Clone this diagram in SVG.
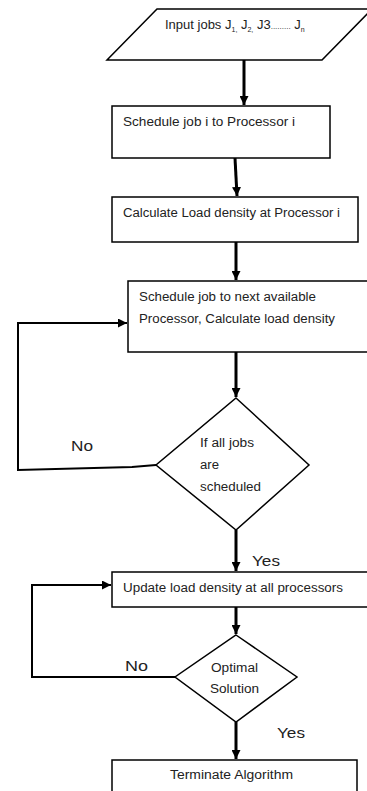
<svg xmlns="http://www.w3.org/2000/svg" width="367" height="791" viewBox="0 0 367 791">
<style>
.shape{fill:#fff;stroke:#000;stroke-width:1.5}
.t{font-family:"Liberation Sans",Arial,sans-serif;font-size:12px;fill:#222}
.lbl{font-family:"Liberation Sans",Arial,sans-serif;font-size:15px;fill:#222}
.c{fill:none;stroke:#000;stroke-width:3}
.l{fill:none;stroke:#000;stroke-width:2}
</style>
<defs>
<marker id="ah" viewBox="0 0 10 10" refX="10" refY="5" markerWidth="3" markerHeight="3" orient="auto" markerUnits="strokeWidth">
<path d="M0,0 L10,5 L0,10 Z" fill="#000"/>
</marker>
<marker id="ah2" viewBox="0 0 10 10" refX="10" refY="5" markerWidth="4.5" markerHeight="4.5" orient="auto" markerUnits="strokeWidth">
<path d="M0,0 L10,5 L0,10 Z" fill="#000"/>
</marker>
</defs>
<rect width="367" height="791" fill="#fff"/>
<g id="input">
<polygon class="shape" points="157,9 372,9 322,60 107,60"/>
<text class="t" x="165" y="29" style="font-size:13px">Input jobs J<tspan style="font-size:7px" dy="3">1,</tspan><tspan dy="-3"> J</tspan><tspan style="font-size:7px" dy="3">2,</tspan><tspan dy="-3"> J3</tspan><tspan style="font-size:8px">.........</tspan><tspan> J</tspan><tspan style="font-size:7px" dy="3">n</tspan></text>
</g>
<g id="schedule1">
<rect class="shape" x="112" y="106" width="218" height="52"/>
<text class="t" x="123" y="126" textLength="172" lengthAdjust="spacingAndGlyphs">Schedule job i to Processor i</text>
</g>
<g id="calc">
<rect class="shape" x="112" y="197" width="246" height="45"/>
<text class="t" x="123" y="217" textLength="217" lengthAdjust="spacingAndGlyphs">Calculate Load density at Processor i</text>
</g>
<g id="schedule2">
<rect class="shape" x="128" y="281" width="241" height="71"/>
<text class="t" x="139" y="301" textLength="177" lengthAdjust="spacingAndGlyphs">Schedule job to next available</text>
<text class="t" x="139" y="323" textLength="196" lengthAdjust="spacingAndGlyphs">Processor, Calculate load density</text>
</g>
<g id="decision1">
<polygon class="shape" points="236,398 309,465 236,530 156,465" stroke-width="1"/>
<text class="t" x="200" y="447" textLength="54" lengthAdjust="spacingAndGlyphs">If all jobs</text>
<text class="t" x="200" y="469" textLength="19" lengthAdjust="spacingAndGlyphs">are</text>
<text class="t" x="200" y="491" textLength="61" lengthAdjust="spacingAndGlyphs">scheduled</text>
</g>
<g id="update">
<rect class="shape" x="112" y="572" width="257" height="35"/>
<text class="t" x="123" y="592" textLength="220" lengthAdjust="spacingAndGlyphs">Update load density at all processors</text>
</g>
<g id="decision2">
<polygon class="shape" points="236,635 297,677 236,722 175,677" stroke-width="1"/>
<text class="t" x="211" y="672" textLength="47" lengthAdjust="spacingAndGlyphs">Optimal</text>
<text class="t" x="210" y="693" textLength="49" lengthAdjust="spacingAndGlyphs">Solution</text>
</g>
<g id="terminate">
<rect class="shape" x="112" y="760" width="245" height="40"/>
<text class="t" x="170" y="779" textLength="123" lengthAdjust="spacingAndGlyphs">Terminate Algorithm</text>
</g>
<g id="connectors">
<path class="c" d="M244,60 V105" marker-end="url(#ah)"/>
<path class="c" d="M235,158 L237,196" marker-end="url(#ah)"/>
<path class="c" d="M236,242 V280" marker-end="url(#ah)"/>
<path class="c" d="M236,352 V397" marker-end="url(#ah)"/>
<path class="l" d="M156,465 L132,467 L18,470 V323 H127" marker-end="url(#ah2)"/>
<path class="c" d="M236,530 V571" marker-end="url(#ah)"/>
<path class="c" d="M236,607 V634" marker-end="url(#ah)"/>
<path class="l" d="M175,677 H32 V585 H111" marker-end="url(#ah2)"/>
<path class="c" d="M236,722 V759" marker-end="url(#ah)"/>
<text class="lbl" x="71" y="451" textLength="22" lengthAdjust="spacingAndGlyphs">No</text>
<text class="lbl" x="252" y="566" textLength="28" lengthAdjust="spacingAndGlyphs">Yes</text>
<text class="lbl" x="125" y="671" textLength="23" lengthAdjust="spacingAndGlyphs">No</text>
<text class="lbl" x="277" y="738" textLength="28" lengthAdjust="spacingAndGlyphs">Yes</text>
</g>
</svg>
